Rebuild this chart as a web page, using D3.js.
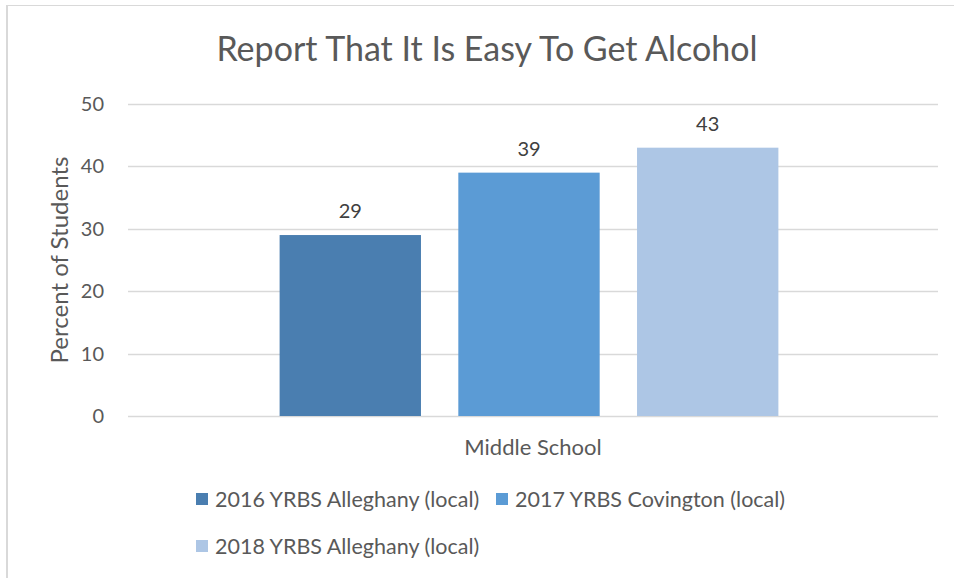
<!DOCTYPE html>
<html><head><meta charset="utf-8">
<script src="https://cdn.jsdelivr.net/npm/d3@7"></script>
<style>body{margin:0;background:#fff;}svg{display:block;font-family:Lato,"Open Sans",sans-serif;}</style>
</head><body><svg id="c" width="954" height="578"></svg>
<script>
const title = "Report That It Is Easy To Get Alcohol";
const categories = ["Middle School"];
const seriesNames = ["2016 YRBS Alleghany (local)", "2017 YRBS Covington (local)", "2018 YRBS Alleghany (local)"];
const seriesValues = [29, 39, 43];
const seriesColors = ["#4a7eb0", "#5b9bd5", "#adc6e5"];
const yTicks = [0, 10, 20, 30, 40, 50];
const yTitle = "Percent of Students";

const svg = d3.select("#c");
const W = 954, H = 578;
svg.append("rect").attr("width", W).attr("height", H).attr("fill", "#fff");
// frame
svg.append("line").attr("x1", 6).attr("x2", W).attr("y1", 5.5).attr("y2", 5.5).attr("stroke", "#d9d9d9").attr("stroke-width", 1);
svg.append("line").attr("x1", 7).attr("x2", 7).attr("y1", 5).attr("y2", H).attr("stroke", "#d9d9d9").attr("stroke-width", 2);

const m = {left: 128, right: 938, top: 104, bottom: 416};
const y = d3.scaleLinear().domain([0, 50]).range([m.bottom, m.top]);
const x0 = d3.scaleBand().domain(categories).range([m.left - 8, m.right]).paddingInner(0).paddingOuter(0.32);
const x1 = d3.scaleBand().domain(seriesNames).range([0, x0.bandwidth()]).paddingInner(0.209);

// gridlines
svg.append("g").selectAll("line").data(yTicks).join("line")
  .attr("x1", m.left).attr("x2", m.right)
  .attr("y1", d => Math.round(y(d)) + 0.5).attr("y2", d => Math.round(y(d)) + 0.5)
  .attr("stroke", "#d9d9d9").attr("stroke-width", 1.5);

// y tick labels
svg.append("g").selectAll("text").data(yTicks).join("text")
  .attr("x", 104).attr("y", d => y(d)).attr("dy", "0.35em")
  .attr("text-anchor", "end").attr("fill", "#595959").attr("font-size", 20)
  .text(d => d);

// y title
svg.append("text").attr("transform", `translate(68,${(m.top + m.bottom) / 2}) rotate(-90)`)
  .attr("text-anchor", "middle").attr("fill", "#595959").attr("font-size", 24).text(yTitle);

// bars
const groups = svg.append("g").selectAll("g").data(categories).join("g")
  .attr("transform", d => `translate(${x0(d)},0)`);
groups.selectAll("rect").data(() => seriesNames.map((s, i) => ({s, v: seriesValues[i], c: seriesColors[i]})))
  .join("rect")
  .attr("x", d => x1(d.s)).attr("width", x1.bandwidth())
  .attr("y", d => y(d.v)).attr("height", d => y(0) - y(d.v))
  .attr("fill", d => d.c);
groups.selectAll("text").data(() => seriesNames.map((s, i) => ({s, v: seriesValues[i]})))
  .join("text")
  .attr("x", d => x1(d.s) + x1.bandwidth() / 2).attr("y", d => y(d.v) - 17)
  .attr("text-anchor", "middle").attr("fill", "#404040").attr("font-size", 20)
  .text(d => d.v);

// x axis label
svg.append("g").selectAll("text").data(categories).join("text")
  .attr("x", 533).attr("y", 455)
  .attr("text-anchor", "middle").attr("fill", "#595959").attr("font-size", 22)
  .text(d => d);

// title
svg.append("text").attr("x", 487).attr("y", 61).attr("text-anchor", "middle")
  .attr("fill", "#595959").attr("font-size", 34).text(title);

// legend
const legendPos = [[196, 499], [496, 499], [196, 546]];
const lg = svg.append("g").selectAll("g").data(seriesNames).join("g")
  .attr("transform", (d, i) => `translate(${legendPos[i][0]},${legendPos[i][1]})`);
lg.append("rect").attr("x", 0).attr("y", -6).attr("width", 12).attr("height", 12)
  .attr("fill", (d, i) => seriesColors[i]);
lg.append("text").attr("x", 19).attr("y", 0).attr("dy", "0.35em").attr("fill", "#595959")
  .attr("font-size", 21.5).text(d => d);
</script></body></html>
